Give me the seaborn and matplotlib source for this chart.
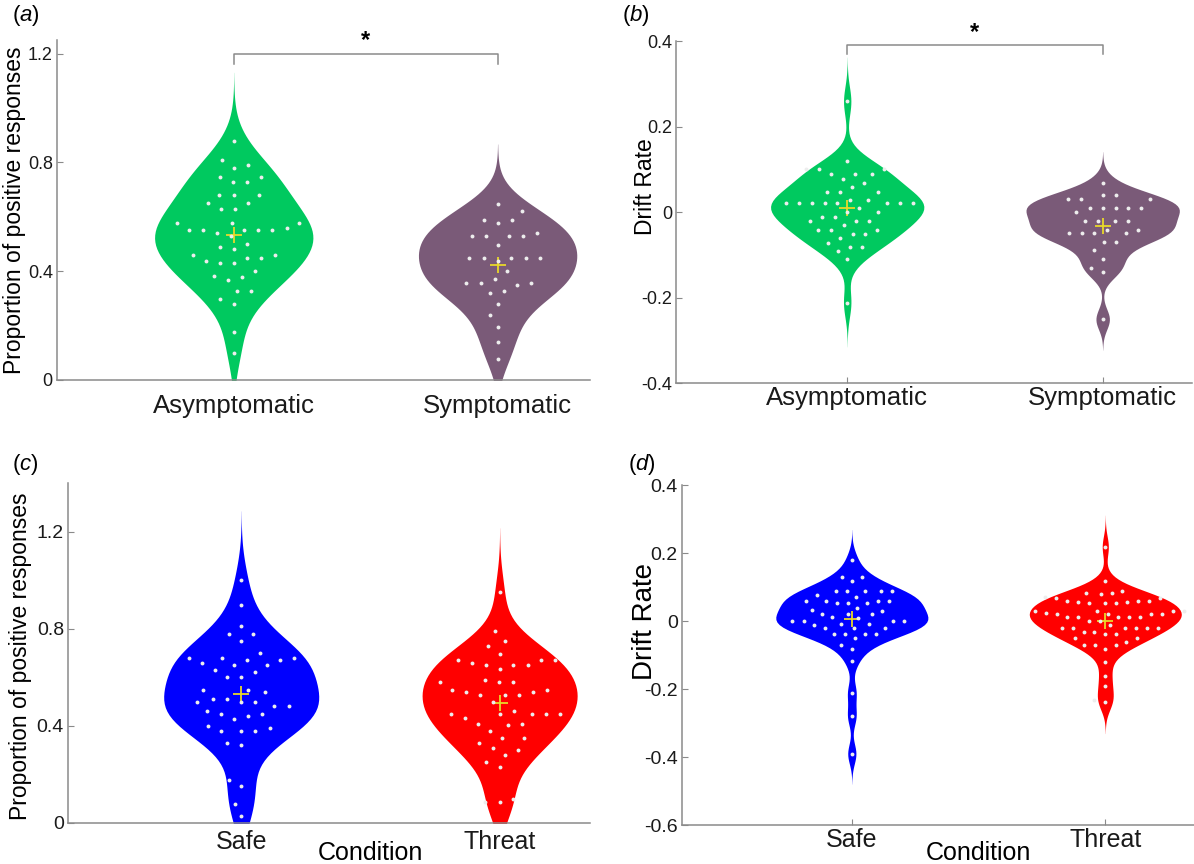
import numpy as np
import pandas as pd
import matplotlib
matplotlib.use('Agg')
import matplotlib.pyplot as plt
import matplotlib.transforms as mtransforms
import seaborn as sns

# (a) proportion of positive responses, by group
prop_asym = [0.877, 0.809, 0.791, 0.779, 0.748, 0.748, 0.729, 0.729, 0.679, 0.679,
             0.679, 0.649, 0.649, 0.628, 0.628, 0.579, 0.579, 0.579, 0.558, 0.55,
             0.55, 0.55, 0.55, 0.55, 0.54, 0.529, 0.50, 0.488, 0.48, 0.459,
             0.459, 0.45, 0.45, 0.439, 0.429, 0.429, 0.399, 0.38, 0.383, 0.368,
             0.329, 0.329, 0.298, 0.28, 0.178, 0.10]
prop_sym = [0.648, 0.623, 0.589, 0.589, 0.579, 0.54, 0.528, 0.528, 0.528, 0.528,
            0.497, 0.45, 0.45, 0.45, 0.45, 0.45, 0.438, 0.399, 0.37, 0.358,
            0.358, 0.358, 0.35, 0.329, 0.319, 0.28, 0.239, 0.196, 0.141, 0.079]

# (b) drift rate, by group
drift_asym = [0.259, 0.12, 0.10, 0.10, 0.10, 0.089, 0.089, 0.089, 0.078, 0.067,
              0.058, 0.048, 0.048, 0.048, 0.029, 0.029, 0.02, 0.02, 0.02, 0.02,
              0.02, 0.02, 0.02, 0.02, 0.009, 0.0, 0.0, -0.011, -0.011, -0.02,
              -0.02, -0.02, -0.031, -0.041, -0.041, -0.041, -0.052, -0.052, -0.061, -0.072,
              -0.081, -0.081, -0.091, -0.11, -0.212]
drift_sym = [0.069, 0.039, 0.039, 0.03, 0.03, 0.03, 0.009, 0.009, 0.009, 0.009,
             0.009, 0.0, -0.02, -0.02, -0.02, -0.02, -0.041, -0.041, -0.05, -0.05,
             -0.05, -0.05, -0.07, -0.07, -0.089, -0.11, -0.13, -0.141, -0.251]

# (c) proportion of positive responses, by condition
prop_safe = [0.999, 0.898, 0.809, 0.779, 0.779, 0.749, 0.70, 0.679, 0.679, 0.679,
             0.672, 0.672, 0.658, 0.65, 0.65, 0.631, 0.62, 0.601, 0.601, 0.549,
             0.549, 0.539, 0.51, 0.51, 0.499, 0.499, 0.499, 0.48, 0.48, 0.46,
             0.45, 0.45, 0.439, 0.429, 0.401, 0.391, 0.38, 0.38, 0.38, 0.329,
             0.322, 0.178, 0.151, 0.08, 0.03]
prop_threat = [0.949, 0.789, 0.749, 0.727, 0.697, 0.67, 0.67, 0.67, 0.658, 0.65,
               0.65, 0.65, 0.636, 0.59, 0.579, 0.579, 0.579, 0.549, 0.549, 0.538,
               0.538, 0.528, 0.528, 0.528, 0.499, 0.46, 0.45, 0.45, 0.45, 0.45,
               0.45, 0.431, 0.409, 0.409, 0.402, 0.38, 0.35, 0.35, 0.329, 0.309,
               0.299, 0.281, 0.25, 0.229, 0.099, 0.085, 0.085]

# (d) drift rate, by condition
drift_safe = [0.18, 0.131, 0.131, 0.119, 0.09, 0.09, 0.09, 0.09, 0.09, 0.078,
              0.072, 0.06, 0.06, 0.06, 0.06, 0.052, 0.052, 0.052, 0.039, 0.034,
              0.03, 0.021, 0.021, 0.021, 0.011, 0.008, 0.0, 0.0, 0.0, 0.0,
              -0.009, -0.009, -0.012, -0.02, -0.02, -0.02, -0.038, -0.038, -0.038, -0.038,
              -0.051, -0.071, -0.081, -0.118, -0.21, -0.279, -0.39]
drift_threat = [0.219, 0.119, 0.09, 0.082, 0.082, 0.08, 0.072, 0.069, 0.069, 0.06,
                0.06, 0.06, 0.057, 0.057, 0.052, 0.052, 0.052, 0.03, 0.03, 0.03,
                0.03, 0.025, 0.021, 0.021, 0.021, 0.021, 0.011, 0.011, 0.011, 0.011,
                0.011, 0.0, 0.0, -0.01, -0.019, -0.019, -0.019, -0.019, -0.019, -0.019,
                -0.031, -0.031, -0.038, -0.038, -0.051, -0.051, -0.061, -0.071, -0.071, -0.071,
                -0.081, -0.12, -0.16, -0.192, -0.231, -0.238]

group_labels = ['Asymptomatic', 'Symptomatic']
cond_labels = ['Safe', 'Threat']
group_colors = ['#00c95f', '#7a5a78']
cond_colors = ['#0000ff', '#ff0000']
mean_color = '#e8d82a'

prop_label = 'Proportion of positive responses'
drift_label = 'Drift Rate'

plt.rcParams['font.family'] = ['Liberation Sans', 'DejaVu Sans']
plt.rcParams['mathtext.fontset'] = 'custom'
plt.rcParams['mathtext.rm'] = 'Liberation Sans'
plt.rcParams['mathtext.it'] = 'Liberation Sans:italic'


def long_df(labels, first, second):
    return pd.DataFrame({'cat': [labels[0]] * len(first) + [labels[1]] * len(second),
                         'val': first + second})


def robust_bw(kde):
    # normal-reference bandwidth with a MAD-based sigma (like matlab ksdensity)
    x = kde.dataset[0]
    sig = np.median(np.abs(x - np.median(x))) / 0.6745
    return sig * (4 / (3 * x.size)) ** 0.2 / x.std(ddof=1)


def draw_panel(ax, df, order, colors, spread):
    sns.violinplot(data=df, x='cat', y='val', hue='cat', order=order, hue_order=order,
                   palette=colors, saturation=1, inner=None, linewidth=0, width=0.6,
                   density_norm='width', cut=3, bw_method=robust_bw, legend=False, ax=ax)
    # invisible wide edge only pushes the swarm dots further apart
    sns.swarmplot(data=df, x='cat', y='val', order=order, color='#ededed', size=2.8,
                  edgecolor=(1, 1, 1, 0), linewidth=spread, ax=ax)
    sns.pointplot(data=df, x='cat', y='val', order=order, estimator='mean', errorbar=None,
                  markers='+', linestyle='none', color=mean_color, markersize=12,
                  markeredgewidth=1.3, ax=ax)
    sns.despine(ax=ax)
    for side in ['left', 'bottom']:
        ax.spines[side].set_color('#8a8a8a')
        ax.spines[side].set_linewidth(1.1)
    ax.set_xlim(-0.67, 1.35)
    ax.tick_params(direction='in', length=4, color='#8a8a8a', labelcolor='#1a1a1a')
    ax.set_axisbelow(True)


def sig_bracket(ax, y, drop):
    ax.plot([0, 0, 1, 1], [y - drop, y, y, y - drop], color='#8a8a8a', lw=1.1, clip_on=False)
    ax.annotate('*', xy=(0.5, y), xytext=(0, 1), textcoords='offset points', ha='center',
                va='bottom', fontsize=17, fontweight='bold', annotation_clip=False)


fig = plt.figure(figsize=(11.94, 8.64), dpi=100)
ax_a = fig.add_axes([0.0477, 0.5602, 0.4464, 0.3935])
ax_b = fig.add_axes([0.5662, 0.5567, 0.4322, 0.3958])
ax_c = fig.add_axes([0.0570, 0.0475, 0.4372, 0.3935])
ax_d = fig.add_axes([0.5712, 0.0450, 0.4288, 0.3935])

draw_panel(ax_a, long_df(group_labels, prop_asym, prop_sym), group_labels, group_colors, 7)
draw_panel(ax_b, long_df(group_labels, drift_asym, drift_sym), group_labels, group_colors, 6)
draw_panel(ax_c, long_df(cond_labels, prop_safe, prop_threat), cond_labels, cond_colors, 7)
draw_panel(ax_d, long_df(cond_labels, drift_safe, drift_threat), cond_labels, cond_colors, 4.8)

ax_a.set_ylim(0, 1.25)
ax_a.set_yticks([0, 0.4, 0.8, 1.2], ['0', '0.4', '0.8', '1.2'])
ax_b.set_ylim(-0.4, 0.4)
ax_b.set_yticks([-0.4, -0.2, 0, 0.2, 0.4], ['-0.4', '-0.2', '0', '0.2', '0.4'])
ax_c.set_ylim(0, 1.4)
ax_c.set_yticks([0, 0.4, 0.8, 1.2], ['0', '0.4', '0.8', '1.2'])
ax_d.set_ylim(-0.6, 0.4)
ax_d.set_yticks([-0.6, -0.4, -0.2, 0, 0.2, 0.4], ['-0.6', '-0.4', '-0.2', '0', '0.2', '0.4'])

for ax, ylab, lsize, ysize, xsize in [(ax_a, prop_label, 16.5, 13, 18.5), (ax_b, drift_label, 16.5, 13, 18.5),
                                      (ax_c, prop_label, 16.5, 14, 18), (ax_d, drift_label, 20, 14, 18)]:
    ax.set_ylabel(ylab, fontsize=lsize)
    ax.tick_params(axis='y', labelsize=ysize, pad=3)
    ax.tick_params(axis='x', labelsize=xsize)
    ax.set_xlabel('')

ax_a.yaxis.set_label_coords(-0.059, 0.5)
ax_b.yaxis.set_label_coords(-0.037, 0.575)
ax_c.yaxis.set_label_coords(-0.069, 0.49)
ax_d.yaxis.set_label_coords(-0.047, 0.6)
ax_a.tick_params(axis='x', pad=10)
ax_b.tick_params(axis='x', pad=2)
ax_c.tick_params(axis='x', pad=5)
ax_d.tick_params(axis='x', pad=2)

for ax, ly in [(ax_c, -0.088), (ax_d, -0.082)]:
    ax.set_xlabel('Condition', fontsize=18, va='center')
    ax.xaxis.set_label_coords(0.5, ly,
                              transform=mtransforms.blended_transform_factory(ax.transData, ax.transAxes))

sig_bracket(ax_a, 1.2, 0.04)
sig_bracket(ax_b, 0.39, 0.02)

for letter, x, y in [('a', 0.010, 0.982), ('b', 0.521, 0.982), ('c', 0.010, 0.462), ('d', 0.526, 0.462)]:
    fig.text(x, y, '($\\mathit{' + letter + '}$)', fontsize=16, va='center', ha='left')

fig.savefig('out.png', dpi=100)
